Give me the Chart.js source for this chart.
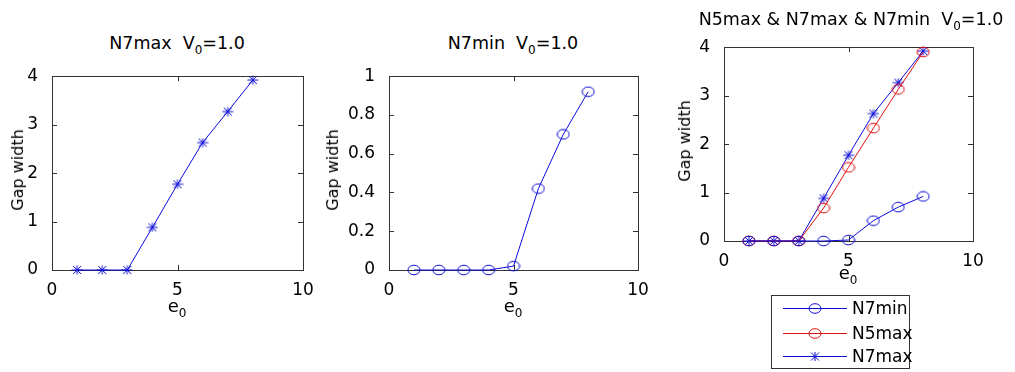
<!DOCTYPE html>
<html>
<head>
<meta charset="utf-8">
<script src="https://cdn.jsdelivr.net/npm/chart.js@4/dist/chart.umd.min.js"></script>
<style>
  body { margin: 0; background: #fff; width: 1015px; height: 372px; position: relative; overflow: hidden;
         font-family: "DejaVu Sans", sans-serif; color: #000; }
  .plot { position: absolute; }
  .lab { position: absolute; white-space: nowrap; line-height: 20px; transform: translateX(-50%); }
  .title { font-size: 17.5px; }
  .xlab { font-size: 18px; }
  .ylab { position: absolute; white-space: nowrap; font-size: 16px; line-height: 20px;
          transform: translate(-50%, -50%) rotate(-90deg); }
  sub { font-size: 12px; vertical-align: -5px; line-height: 0; }
  #legend { position: absolute; left: 771px; top: 295px; width: 139px; height: 74px;
            border: 1px solid #333; box-sizing: border-box; }
  .legtxt { position: absolute; left: 852px; font-size: 17px; line-height: 20px; white-space: nowrap; }
</style>
</head>
<body>

<div class="plot" style="left:0px;top:60px"><canvas id="c1" width="320" height="240"></canvas></div>
<div class="plot" style="left:320px;top:60px"><canvas id="c2" width="340" height="240"></canvas></div>
<div class="plot" style="left:660px;top:31px"><canvas id="c3" width="355" height="240"></canvas></div>

<div class="lab title" style="left:177px;top:33px">N7max&nbsp; V<sub>0</sub>=1.0</div>
<div class="lab title" style="left:513px;top:33px">N7min&nbsp; V<sub>0</sub>=1.0</div>
<div class="lab title" style="left:851px;top:9px">N5max &amp; N7max &amp; N7min&nbsp; V<sub>0</sub>=1.0</div>

<div class="ylab" style="left:18px;top:170px">Gap width</div>
<div class="ylab" style="left:333px;top:170px">Gap width</div>
<div class="ylab" style="left:685px;top:141px">Gap width</div>

<div class="lab xlab" style="left:177px;top:296px">e<sub>0</sub></div>
<div class="lab xlab" style="left:513px;top:296px">e<sub>0</sub></div>
<div class="lab xlab" style="left:848px;top:263px">e<sub>0</sub></div>

<div id="legend"></div>
<svg id="legsvg" width="1015" height="372" style="position:absolute;left:0;top:0"></svg>

<script>
// data
const e0 = [1, 2, 3, 4, 5, 6, 7, 8];
const n7max = [0, 0, 0, 0.88, 1.77, 2.63, 3.27, 3.92];
const n7min = [0, 0, 0, 0, 0.02, 0.42, 0.70, 0.92];
const n5max = [0, 0, 0, 0.68, 1.52, 2.33, 3.13, 3.90];

const xTicks = [0, 5, 10];
const yTicksGap = [0, 1, 2, 3, 4];
const yTicksMin = [0, 0.2, 0.4, 0.6, 0.8, 1];

const legendNames = ['N7min', 'N5max', 'N7max'];

const BLUE = '#0c0cd8';
const RED = '#e01010';
const FONT = { family: 'DejaVu Sans', size: 17 };

// matlab style markers (the figure is a bit stretched sideways)
function circleMarker(color) {
    const c = document.createElement('canvas');
    c.width = 14; c.height = 12;
    const g = c.getContext('2d');
    g.strokeStyle = color; g.lineWidth = 1;
    g.beginPath();
    g.ellipse(7, 6, 6, 4.8, 0, 0, Math.PI * 2);
    g.stroke();
    return c;
}
function starMarker(color) {
    const c = document.createElement('canvas');
    c.width = 12; c.height = 10;
    const g = c.getContext('2d');
    g.strokeStyle = color; g.lineWidth = 1;
    g.beginPath();
    g.moveTo(0.5, 5); g.lineTo(11.5, 5);
    g.moveTo(6, 0.5); g.lineTo(6, 9.5);
    g.moveTo(2, 1); g.lineTo(10, 9);
    g.moveTo(2, 9); g.lineTo(10, 1);
    g.stroke();
    return c;
}

function pts(ys) {
    return e0.map((x, i) => ({ x: x, y: ys[i] }));
}

function series(ys, color, marker) {
    return {
        data: pts(ys),
        borderColor: color,
        borderWidth: 1,
        pointStyle: marker,
        pointRadius: 5,
        pointHoverRadius: 5,
        tension: 0,
        clip: false,
        fill: false
    };
}

// box round the axes with inward ticks on all four sides
const boxPlugin = {
    id: 'mbox',
    beforeDatasetsDraw(chart) {
        const ctx = chart.ctx;
        const a = chart.chartArea;
        const x = chart.scales.x, y = chart.scales.y;
        ctx.save();
        ctx.strokeStyle = '#333';
        ctx.lineWidth = 1;
        ctx.strokeRect(Math.round(a.left) + 0.5, Math.round(a.top) + 0.5,
                       Math.round(a.width), Math.round(a.height));
        ctx.beginPath();
        x.ticks.forEach(t => {
            const px = Math.round(x.getPixelForValue(t.value)) + 0.5;
            ctx.moveTo(px, a.bottom); ctx.lineTo(px, a.bottom - 5);
            ctx.moveTo(px, a.top); ctx.lineTo(px, a.top + 5);
        });
        y.ticks.forEach(t => {
            const py = Math.round(y.getPixelForValue(t.value)) + 0.5;
            ctx.moveTo(a.left, py); ctx.lineTo(a.left + 5, py);
            ctx.moveTo(a.right, py); ctx.lineTo(a.right - 5, py);
        });
        ctx.stroke();
        ctx.restore();
    }
};

function makeChart(id, datasets, yMax, yTicks, yWidth, padRight) {
    new Chart(document.getElementById(id), {
        type: 'line',
        data: { datasets: datasets },
        options: {
            responsive: false,
            animation: false,
            layout: { padding: { left: 0, top: 10, right: padRight, bottom: 0 } },
            plugins: { legend: { display: false }, tooltip: { enabled: false } },
            scales: {
                x: {
                    type: 'linear', min: 0, max: 10,
                    afterBuildTicks: s => { s.ticks = xTicks.map(v => ({ value: v })); },
                    afterFit: s => { s.height = 30; },
                    ticks: { color: '#000', font: FONT, padding: 2, maxRotation: 0, autoSkip: false,
                             callback: v => String(v) },
                    grid: { display: false },
                    border: { display: false }
                },
                y: {
                    type: 'linear', min: 0, max: yMax,
                    afterBuildTicks: s => { s.ticks = yTicks.map(v => ({ value: v })); },
                    afterFit: s => { s.width = yWidth; },
                    ticks: { color: '#000', font: FONT, padding: 6, autoSkip: false,
                             callback: v => String(v) },
                    grid: { display: false },
                    border: { display: false }
                }
            }
        },
        plugins: [boxPlugin]
    });
}

makeChart('c1', [series(n7max, BLUE, starMarker(BLUE))], 4, yTicksGap, 52, 17);
makeChart('c2', [series(n7min, BLUE, circleMarker(BLUE))], 1, yTicksMin, 69, 22);
makeChart('c3', [
    series(n7min, BLUE, circleMarker(BLUE)),
    series(n5max, RED, circleMarker(RED)),
    series(n7max, BLUE, starMarker(BLUE))
], 4, yTicksGap, 64, 42);

// legend entries
const legColors = [BLUE, RED, BLUE];
const legMarks = ['o', 'o', '*'];
const legY = [308, 333, 356];
const svg = document.getElementById('legsvg');
let s = '';
legendNames.forEach((name, i) => {
    const y = legY[i] + 0.5;
    s += `<line x1="783" y1="${y}" x2="847" y2="${y}" stroke="${legColors[i]}" stroke-width="1"/>`;
    if (legMarks[i] === 'o') {
        s += `<ellipse cx="815" cy="${y}" rx="6" ry="4.8" fill="none" stroke="${legColors[i]}" stroke-width="1"/>`;
    } else {
        s += `<path d="M809.5 ${y}H820.5M815 ${y - 4.5}V${y + 4.5}M811 ${y - 4}L819 ${y + 4}M811 ${y + 4}L819 ${y - 4}" stroke="${legColors[i]}" stroke-width="1" fill="none"/>`;
    }
    const d = document.createElement('div');
    d.className = 'legtxt';
    d.style.top = (legY[i] - 10) + 'px';
    d.textContent = name;
    document.body.appendChild(d);
});
svg.innerHTML = s;
</script>
</body>
</html>
